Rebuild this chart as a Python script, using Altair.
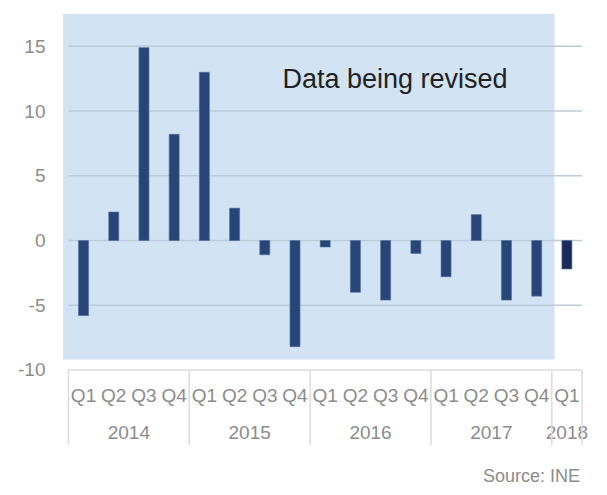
import altair as alt
import pandas as pd

# ---- data ----
quarters = ["Q1", "Q2", "Q3", "Q4"] * 4 + ["Q1"]
years = ["2014"] * 4 + ["2015"] * 4 + ["2016"] * 4 + ["2017"] * 4 + ["2018"]
values = [-5.8, 2.2, 14.9, 8.2, 13.0, 2.5, -1.1, -8.2,
          -0.5, -4.0, -4.6, -1.0, -2.8, 2.0, -4.6, -4.3, -2.2]
revised = [True] * 16 + [False]
year_labels = ["2014", "2015", "2016", "2017", "2018"]
year_start = [0, 4, 8, 12, 16]
year_end = [4, 8, 12, 16, 17]
grid_values = [-5, 0, 5, 10, 15]
y_ticks = [-10, -5, 0, 5, 10, 15]
annotation = "Data being revised"
source = "Source: INE"

FONT = "Liberation Sans"
GRAY = "#8c8c8c"

bars_df = pd.DataFrame({
    "slot": [i + 0.5 for i in range(len(values))],
    "value": values,
    "zero": [0.0] * len(values),
    "qy": [-12.0] * len(values),
    "quarter": quarters,
    "year": years,
    "status": ["revised" if r else "final" for r in revised],
})
years_df = pd.DataFrame({
    "year": year_labels,
    "center": [(s + e) / 2 for s, e in zip(year_start, year_end)],
    "yy": [-14.9] * len(year_labels),
})
sep_df = pd.DataFrame({"pos": year_start + [17], "top": -10.0, "bot": -15.8})
grid_df = pd.DataFrame({"v": grid_values, "a": 0.0, "b": 17.0})
box_df = pd.DataFrame({"v": [-10.0], "a": [0.0], "b": [17.0]})
region_df = pd.DataFrame({"x0": [-0.18], "x1": [16.09], "y0": [17.5], "y1": [-9.2]})

xs = alt.Scale(domain=[-0.18, 17], nice=False, zero=False)
ys = alt.Scale(domain=[-15.8, 17.5], nice=False, zero=False)

yaxis = alt.Axis(values=y_ticks, grid=False, domain=False, ticks=False,
                 labelFontSize=19, labelColor=GRAY, labelFont=FONT,
                 labelPadding=13, title=None, labelExpr="'' + datum.value")


def X(f):
    return alt.X(f, type="quantitative", scale=xs, axis=None)


def Y(f):
    return alt.Y(f, type="quantitative", scale=ys, axis=yaxis)


region = alt.Chart(region_df).mark_rect(color="#d2e3f3").encode(
    x=X("x0"), x2="x1", y=Y("y0"), y2="y1",
)

grid = alt.Chart(grid_df).mark_rule(color="#bccbd8", strokeWidth=1.5).encode(
    y=Y("v"), x=X("a"), x2="b",
)
box_top = alt.Chart(box_df).mark_rule(color="#dcdcdc", strokeWidth=1.5).encode(
    y=Y("v"), x=X("a"), x2="b",
)

bars = alt.Chart(bars_df).mark_bar(size=10, stroke="#4d6d9c", strokeWidth=0.6).encode(
    x=X("slot"),
    y=Y("value"),
    y2="zero",
    color=alt.Color("status:N",
                    scale=alt.Scale(domain=["revised", "final"], range=["#274677", "#1b2b58"]),
                    legend=None),
)

note = alt.Chart(pd.DataFrame({"t": [annotation], "x": [10.81], "y": [12.4]})).mark_text(
    fontSize=27, font=FONT, color="#222222", align="center", baseline="middle"
).encode(x=X("x"), y=Y("y"), text="t:N")

qlabels = alt.Chart(bars_df).mark_text(
    fontSize=19, font=FONT, color=GRAY, align="center", baseline="middle"
).encode(x=X("slot"), y=Y("qy"), text="quarter:N")

ylabels = alt.Chart(years_df).mark_text(
    fontSize=19, font=FONT, color=GRAY, align="center", baseline="middle"
).encode(x=X("center"), y=Y("yy"), text="year:N")

seps = alt.Chart(sep_df).mark_rule(color="#dcdcdc", strokeWidth=1.5).encode(
    x=X("pos"), y=Y("top"), y2="bot",
)

src = alt.Chart(pd.DataFrame({"t": [source]})).mark_text(
    fontSize=18, font=FONT, color=GRAY, align="right", baseline="alphabetic"
).encode(x=alt.value(522), y=alt.value(468), text="t:N")

chart = alt.layer(region, grid, box_top, bars, note, qlabels, ylabels, seps, src).properties(
    width=529, height=431,
    background="white",
    autosize=alt.AutoSizeParams(type="none"),
    padding={"left": 50, "top": 6, "right": 12, "bottom": 42},
).configure_view(strokeWidth=0, stroke=None)

chart.save("out.html", embed_options={"renderer": "svg", "actions": False})
